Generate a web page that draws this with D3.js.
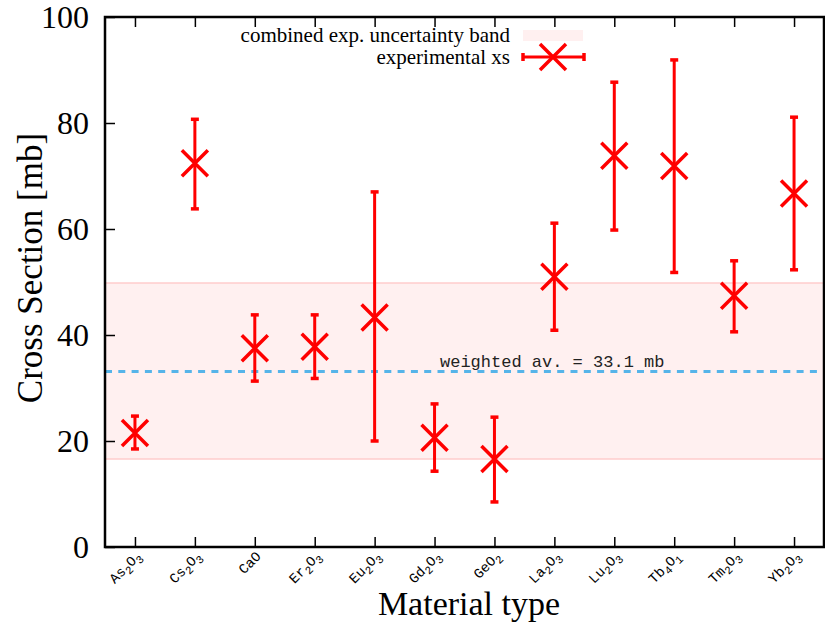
<!DOCTYPE html>
<html>
<head>
<meta charset="utf-8">
<script src="https://cdn.jsdelivr.net/npm/d3@7"></script>
<style>
    body { margin: 0; background: #fff; }
    svg { display: block; }
</style>
</head>
<body>
<div id="chart"></div>
<script>
// data
const materials = ['As2O3', 'Cs2O3', 'CaO', 'Er2O3', 'Eu2O3', 'Gd2O3', 'GeO2', 'La2O3', 'Lu2O3', 'Tb4O1', 'Tm2O3', 'Yb2O3'];
const xsValues  = [21.5, 72.4, 37.5, 37.8, 43.3, 20.6, 16.6, 51.0, 73.8, 71.9, 47.4, 66.7];
const errLow    = [18.5, 63.8, 31.3, 31.8, 20.0, 14.3, 8.5, 40.9, 59.8, 51.8, 40.6, 52.3];
const errHigh   = [24.7, 80.7, 43.8, 43.8, 67.0, 27.0, 24.5, 61.1, 87.7, 91.9, 54.0, 81.1];
const yTicks = [0, 20, 40, 60, 80, 100];
const weightedAv = 33.1;
const bandLow = 16.6;
const bandHigh = 49.8;

const W = 825, H = 625;
const margin = { top: 17, right: 1, bottom: 78, left: 105 };
const width = W - margin.left - margin.right;
const height = H - margin.top - margin.bottom;
const red = '#ff0000';

const svg = d3.select('#chart').append('svg')
    .attr('width', W)
    .attr('height', H);

const g = svg.append('g')
    .attr('transform', `translate(${margin.left},${margin.top})`);

const x = d3.scaleLinear().domain([0.5, materials.length + 0.5]).range([0, width]);
const y = d3.scaleLinear().domain([0, 100]).range([height, 0]);

// uncertainty band
g.append('rect')
    .attr('x', 0).attr('width', width)
    .attr('y', y(bandHigh)).attr('height', y(bandLow) - y(bandHigh))
    .attr('fill', '#fff0f0');
[bandLow, bandHigh].forEach(v => {
    g.append('line')
        .attr('x1', 0).attr('x2', width)
        .attr('y1', y(v)).attr('y2', y(v))
        .attr('stroke', '#ffcccc').attr('stroke-width', 1.5);
});

// weighted average
g.append('line')
    .attr('x1', 0).attr('x2', width)
    .attr('y1', y(weightedAv)).attr('y2', y(weightedAv))
    .attr('stroke', '#56b4e9').attr('stroke-width', 3)
    .attr('stroke-dasharray', '7,6.3');
g.append('text')
    .attr('x', 335).attr('y', y(weightedAv) - 5)
    .attr('font-family', '"Liberation Mono", "DejaVu Sans Mono", monospace')
    .attr('font-size', '17px')
    .attr('fill', '#222')
    .text('weighted av. = ' + weightedAv + ' mb');

// axes
const yAxis = g.append('g')
    .call(d3.axisLeft(y).tickValues(yTicks).tickSize(-10).tickPadding(16));
yAxis.select('.domain').remove();
yAxis.selectAll('.tick line').attr('stroke', '#000').attr('stroke-width', 1.5);
yAxis.selectAll('.tick text')
    .attr('font-family', '"Liberation Serif", "Times New Roman", serif')
    .attr('font-size', '32px')
    .attr('fill', '#000')
    .attr('dy', '0.33em');

const idx = d3.range(1, materials.length + 1);
const xAxis = g.append('g')
    .attr('transform', `translate(0,${height})`)
    .call(d3.axisBottom(x).tickValues(idx).tickSize(-10).tickFormat(''));
xAxis.select('.domain').remove();
xAxis.selectAll('.tick line').attr('stroke', '#000').attr('stroke-width', 1.5);

const xTop = g.append('g')
    .call(d3.axisTop(x).tickValues(idx).tickSize(-10).tickFormat(''));
xTop.select('.domain').remove();
xTop.selectAll('.tick line').attr('stroke', '#000').attr('stroke-width', 1.5);

// rotated category labels with subscripts
const labelGroups = g.append('g').selectAll('g')
    .data(materials)
    .enter()
    .append('g')
    .attr('transform', (d, i) => `translate(${x(i + 1) + 7},${height + 10}) rotate(-45)`);
labelGroups.each(function(d) {
    const t = d3.select(this).append('text')
        .attr('text-anchor', 'end')
        .attr('font-family', '"Liberation Mono", "DejaVu Sans Mono", monospace')
        .attr('font-size', '14px')
        .attr('fill', '#000');
    let shifted = false;
    d.match(/\d+|\D+/g).forEach(part => {
        if (/\d/.test(part)) {
            t.append('tspan').attr('font-size', '11px').attr('dy', shifted ? 0 : 4).text(part);
            shifted = true;
        } else {
            t.append('tspan').attr('dy', shifted ? -4 : 0).text(part);
            shifted = false;
        }
    });
});

// frame
g.append('rect')
    .attr('width', width).attr('height', height)
    .attr('fill', 'none').attr('stroke', '#000').attr('stroke-width', 2.5);

// error bars
const pts = g.append('g').selectAll('g')
    .data(materials)
    .enter()
    .append('g');
pts.append('line')
    .attr('x1', (d, i) => x(i + 1)).attr('x2', (d, i) => x(i + 1))
    .attr('y1', (d, i) => y(errLow[i])).attr('y2', (d, i) => y(errHigh[i]))
    .attr('stroke', red).attr('stroke-width', 3);
[errLow, errHigh].forEach(arr => {
    pts.append('line')
        .attr('x1', (d, i) => x(i + 1) - 4).attr('x2', (d, i) => x(i + 1) + 4)
        .attr('y1', (d, i) => y(arr[i])).attr('y2', (d, i) => y(arr[i]))
        .attr('stroke', red).attr('stroke-width', 3.5);
});
const s = 13;
pts.append('path')
    .attr('d', (d, i) => {
        const cx = x(i + 1), cy = y(xsValues[i]);
        return `M${cx - s},${cy - s}L${cx + s},${cy + s}M${cx - s},${cy + s}L${cx + s},${cy - s}`;
    })
    .attr('stroke', red).attr('stroke-width', 3.5).attr('fill', 'none');

// axis titles
svg.append('text')
    .attr('transform', 'translate(42,268) rotate(-90)')
    .attr('text-anchor', 'middle')
    .attr('font-family', '"Liberation Serif", "Times New Roman", serif')
    .attr('font-size', '35px')
    .text('Cross Section [mb]');
svg.append('text')
    .attr('x', 469).attr('y', 615)
    .attr('text-anchor', 'middle')
    .attr('font-family', '"Liberation Serif", "Times New Roman", serif')
    .attr('font-size', '34px')
    .text('Material type');

// legend
const leg = svg.append('g')
    .attr('font-family', '"Liberation Serif", "Times New Roman", serif')
    .attr('font-size', '21px');
leg.append('text').attr('x', 510).attr('y', 42).attr('text-anchor', 'end')
    .text('combined exp. uncertainty band');
leg.append('rect').attr('x', 523).attr('y', 30).attr('width', 60).attr('height', 11)
    .attr('fill', '#fff0f0');
leg.append('text').attr('x', 510).attr('y', 64).attr('text-anchor', 'end')
    .text('experimental xs');
leg.append('line').attr('x1', 523).attr('x2', 584).attr('y1', 57).attr('y2', 57)
    .attr('stroke', red).attr('stroke-width', 3);
[523, 584].forEach(cx => {
    leg.append('line').attr('x1', cx).attr('x2', cx).attr('y1', 53).attr('y2', 61)
        .attr('stroke', red).attr('stroke-width', 3.5);
});
leg.append('path')
    .attr('d', `M${553 - s},${57 - s}L${553 + s},${57 + s}M${553 - s},${57 + s}L${553 + s},${57 - s}`)
    .attr('stroke', red).attr('stroke-width', 3.5).attr('fill', 'none');
</script>
</body>
</html>
